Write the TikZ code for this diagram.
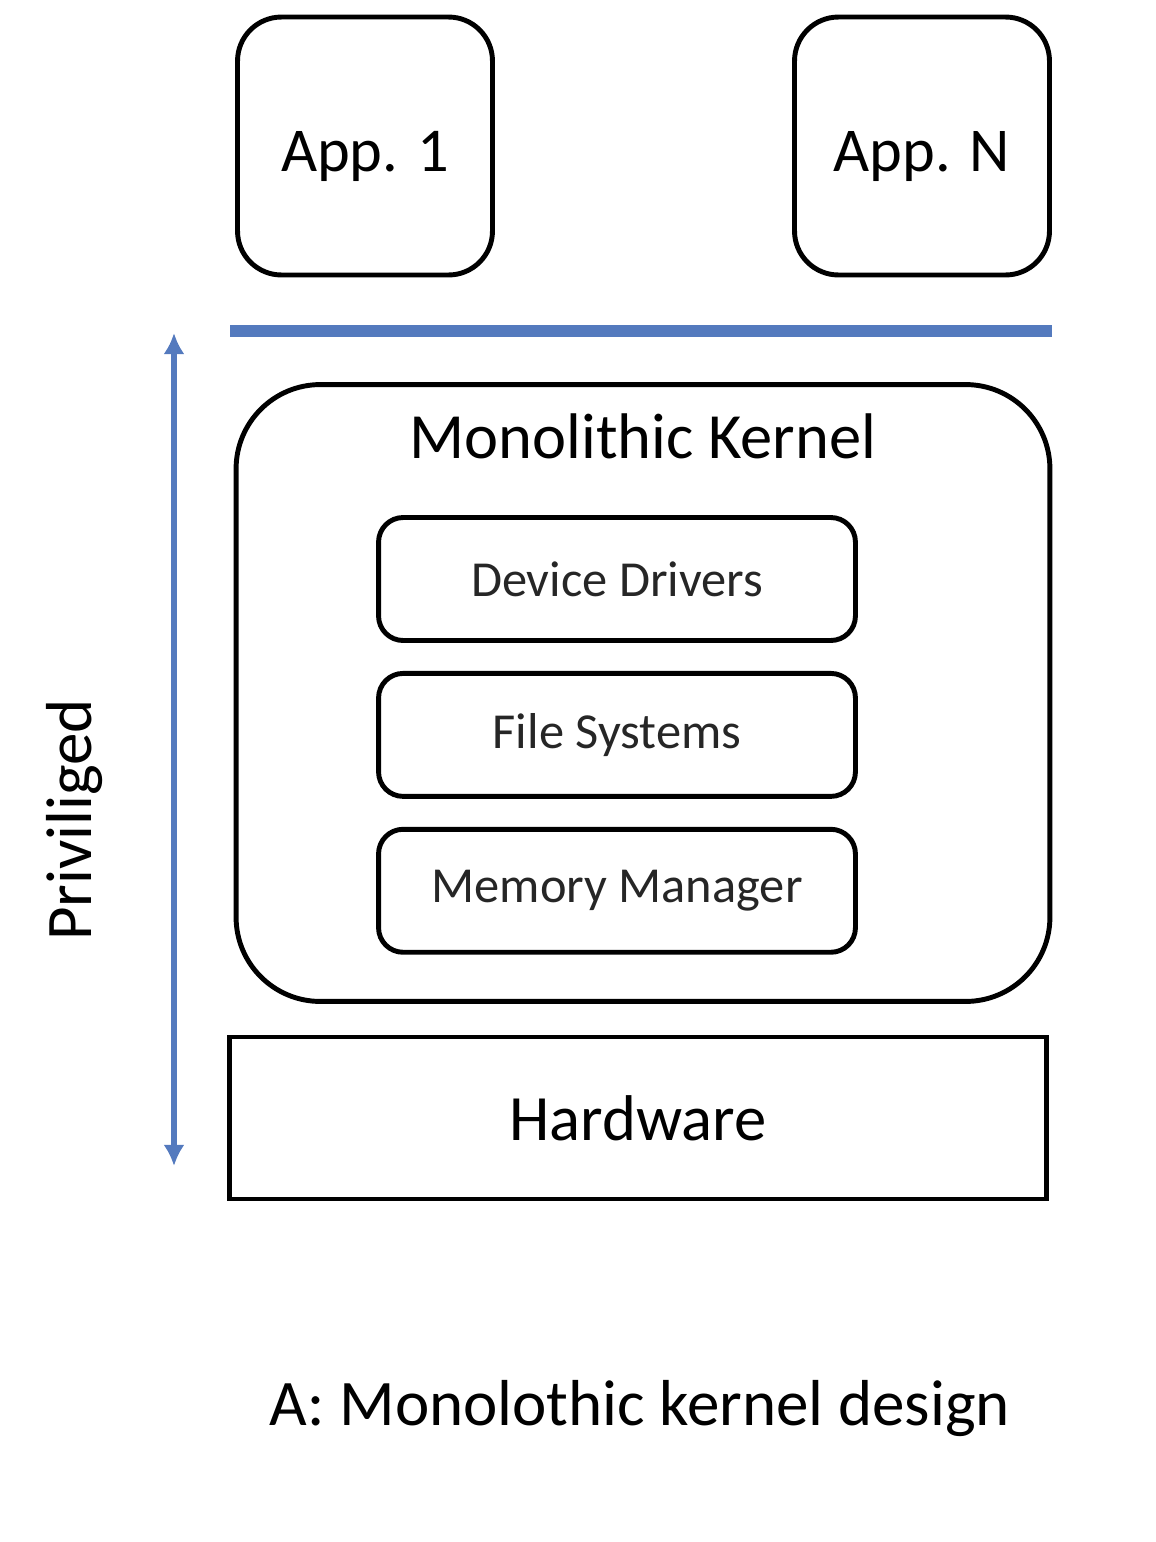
\documentclass[tikz,border=0pt]{standalone}
\usepackage{fontspec}
\setmainfont{Carlito}
\usepackage{xcolor}
\usetikzlibrary{positioning, arrows.meta}
\definecolor{privblue}{RGB}{84,122,190}

\begin{document}
\begin{tikzpicture}[x=0.02cm, y=-0.02cm,
        app/.style={draw, line width=2.8pt, rounded corners=25pt, minimum width=5.1cm, minimum height=5.16cm, text height=30pt, text depth=0.5pt, font=\fontsize{35.5}{42}\selectfont},
        part/.style={draw, line width=2.8pt, rounded corners=14pt, minimum width=9.54cm, minimum height=2.46cm, font=\fontsize{28.7}{34}\selectfont, text=black!85}]
        \useasboundingbox (0, 0) rectangle (1156, 1542);

        \node[app] (app1) at (365, 146) {App. 1};
        \node[app] (appn) at (922, 146) {App. N};

        \coordinate (userl) at (230, 331);
        \coordinate (userr) at (1052, 331);
        \draw[privblue, line width=6.8pt] (userl) -- (userr);

        \node[draw, line width=2.8pt, rounded corners=48pt, minimum width=16.28cm, minimum height=12.34cm] (kernel) at (643, 693) {};
        \node[font=\fontsize{36.7}{44}\selectfont, below=0.5cm of kernel.north] (ktitle) {Monolithic Kernel};

        \node[part] (drivers) at (617, 579) {Device Drivers};
        \node[part, below=0.56cm of drivers] (files) {File Systems};
        \node[part, below=0.56cm of files] (memory) {Memory Manager};

        \node[draw, line width=2.8pt, minimum width=16.36cm, minimum height=3.24cm, font=\fontsize{36.8}{44}\selectfont] (hw) at (638, 1118) {Hardware};

        \coordinate (privtop) at (174, 333);
        \coordinate (privbot) at (174, 1166);
        \draw[privblue, line width=3.4pt, {Latex[length=12pt, width=12pt]}-{Latex[length=12pt, width=12pt]}] (privtop) -- (privbot);
        \node[rotate=90, font=\fontsize{37}{44}\selectfont] (priv) at (75, 820) {Priviliged};

        \node[font=\fontsize{37}{44}\selectfont] (caption) at (640, 1408) {A: Monolothic kernel design};
\end{tikzpicture}
\end{document}
